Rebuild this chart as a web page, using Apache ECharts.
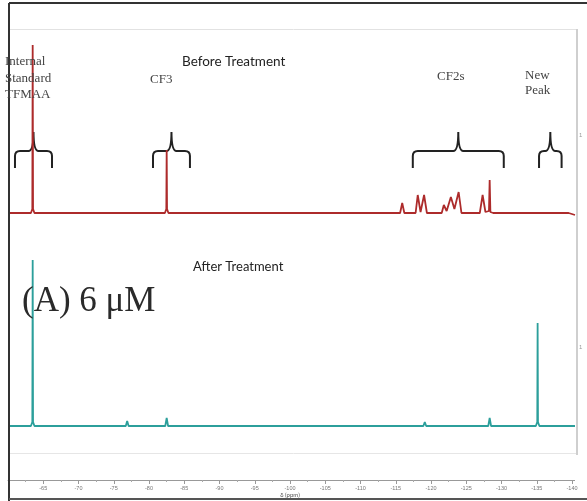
<!DOCTYPE html>
<html>
<head>
<meta charset="utf-8">
<script src="https://cdn.jsdelivr.net/npm/echarts@6/dist/echarts.min.js"></script>
<style>html,body{margin:0;padding:0;background:#fff}#c{width:587px;height:501px}</style>
</head>
<body>
<div id="c"></div>
<script>
// Chemical shift (ppm) and intensity, Before Treatment
const beforePpm = [-60, -63.25, -63.45, -63.5, -63.55, -63.75, -82.25, -82.45, -82.5, -82.55, -82.75,
  -115.6, -115.9, -116.2, -117.8, -118.1, -118.5, -119.0, -119.4, -121.5, -121.8, -122.2, -122.8, -123.3, -123.9, -124.3,
  -126.9, -127.3, -127.7, -128.2, -128.3, -128.4, -128.8, -139.5, -140.4];
const beforeInt = [0, 0, 4, 168, 4, 0, 0, 4, 63, 4, 0,
  0, 10, 0, 0, 18, 1, 18, 0, 0, 8, 2, 16, 4, 21, 0,
  0, 18, 1, 2, 33, 1, 0, 0, -2];
// After Treatment
const afterPpm = [-60, -63.25, -63.45, -63.5, -63.55, -63.75, -76.7, -76.9, -77.1, -82.3, -82.5, -82.7,
  -118.9, -119.1, -119.3, -122.8, -123.0, -123.2, -128.1, -128.3, -128.5,
  -134.85, -135.05, -135.1, -135.15, -135.35, -140.4];
const afterInt = [0, 0, 4, 166, 4, 0, 0, 5, 0, 0, 8, 0,
  0, 4, 0, 0, 2, 0, 0, 8, 0,
  0, 4, 103, 4, 0, 0];
// Brace annotation ranges (ppm)
const braceLeft = [-60.99, -80.56, -117.4, -135.3];
const braceRight = [-66.24, -85.8, -130.3, -138.5];
// Axis range and tick step (ppm)
const axisMin = -140, axisMax = -60, tickStep = 5;

const XMIN = -140.4, XMAX = -60;
const chart = echarts.init(document.getElementById('c'), null, {renderer: 'canvas'});
const serif = '"Liberation Serif", "DejaVu Serif", serif';
const sans = 'Lato, "Open Sans", sans-serif';

function braceItem(params, api) {
  const L = api.coord([api.value(0), 62]);
  const R = api.coord([api.value(1), 62]);
  const e = api.coord([api.value(0), 45])[1];
  const t = api.coord([api.value(0), 81])[1];
  const h = L[1], l = L[0], r = R[0], c = (l + r) / 2, rr = 5;
  const d = `M${l},${e} L${l},${h + rr} Q${l},${h} ${l + rr},${h} L${c - rr},${h} Q${c},${h} ${c},${t} Q${c},${h} ${c + rr},${h} L${r - rr},${h} Q${r},${h} ${r},${h + rr} L${r},${e}`;
  return {type: 'path', shape: {pathData: d}, style: {stroke: '#222', lineWidth: 2, fill: null}};
}

const option = {
  animation: false,
  backgroundColor: '#fff',
  grid: [
    {left: 8, right: 12, top: 30, height: 190},
    {left: 8, right: 12, top: 243, height: 190},
    {left: 8, right: 15, top: 470, height: 10}
  ],
  xAxis: [
    {gridIndex: 0, type: 'value', min: XMIN, max: XMAX, inverse: true, show: false},
    {gridIndex: 1, type: 'value', min: XMIN, max: XMAX, inverse: true, show: false},
    {gridIndex: 2, type: 'value', min: axisMin, max: axisMax, interval: tickStep, inverse: true,
      name: 'δ (ppm)', nameLocation: 'middle', nameGap: 11, nameTextStyle: {fontSize: 6, color: '#555', fontFamily: sans},
      axisLine: {show: true, onZero: false, lineStyle: {color: '#999', width: 1}},
      axisTick: {show: true, length: 4, lineStyle: {color: '#999'}},
      minorTick: {show: true, splitNumber: 2, length: 2, lineStyle: {color: '#aaa'}},
      axisLabel: {show: true, fontSize: 5.5, color: '#777', margin: 5, showMaxLabel: false},
      splitLine: {show: false}}
  ],
  yAxis: [
    {gridIndex: 0, type: 'value', min: -7, max: 183, show: false},
    {gridIndex: 1, type: 'value', min: -7, max: 183, show: false},
    {gridIndex: 2, type: 'value', min: 0, max: 1, show: false}
  ],
  series: [
    {type: 'line', xAxisIndex: 0, yAxisIndex: 0, symbol: 'none', silent: true,
      lineStyle: {color: '#ad2b2b', width: 1.8},
      data: beforePpm.map((p, i) => [p, beforeInt[i]])},
    {type: 'line', xAxisIndex: 1, yAxisIndex: 1, symbol: 'none', silent: true,
      lineStyle: {color: '#2c9f9b', width: 1.8},
      data: afterPpm.map((p, i) => [p, afterInt[i]])},
    {type: 'custom', xAxisIndex: 0, yAxisIndex: 0, clip: false, silent: true,
      encode: {x: [0, 1]}, renderItem: braceItem,
      data: braceLeft.map((p, i) => [p, braceRight[i]])}
  ],
  graphic: [
    // frame lines
    {type: 'line', shape: {x1: 9, y1: 3, x2: 587, y2: 3}, style: {stroke: '#333', lineWidth: 2}, z: 10},
    {type: 'line', shape: {x1: 9, y1: 3, x2: 9, y2: 501}, style: {stroke: '#333', lineWidth: 2}, z: 10},
    {type: 'line', shape: {x1: 9, y1: 499, x2: 587, y2: 499}, style: {stroke: '#555', lineWidth: 2}, z: 10},
    {type: 'line', shape: {x1: 10, y1: 29.5, x2: 577, y2: 29.5}, style: {stroke: '#e2e2e2', lineWidth: 1}},
    {type: 'line', shape: {x1: 10, y1: 453.5, x2: 577, y2: 453.5}, style: {stroke: '#e6e6e6', lineWidth: 1}},
    {type: 'line', shape: {x1: 577, y1: 29, x2: 577, y2: 455}, style: {stroke: '#cfcfcf', lineWidth: 2}},
    {type: 'line', shape: {x1: 572, y1: 480.5, x2: 575, y2: 480.5}, style: {stroke: '#999', lineWidth: 1}},
    {type: 'text', x: 579, y: 135, style: {text: '1', fontSize: 6, fill: '#999', verticalAlign: 'middle'}},
    {type: 'text', x: 579, y: 347, style: {text: '1', fontSize: 6, fill: '#999', verticalAlign: 'middle'}},
    // annotations
    {type: 'text', x: 5, y: 78.5, z: 20, style: {text: 'Internal\nStandard\nTFMAA', font: '13px ' + serif, lineHeight: 16.5, fill: '#444', verticalAlign: 'middle'}},
    {type: 'text', x: 150, y: 80, z: 20, style: {text: 'CF3', font: '13px ' + serif, fill: '#444', verticalAlign: 'middle'}},
    {type: 'text', x: 437, y: 77, z: 20, style: {text: 'CF2s', font: '13px ' + serif, fill: '#444', verticalAlign: 'middle'}},
    {type: 'text', x: 525, y: 83, z: 20, style: {text: 'New\nPeak', font: '13px ' + serif, lineHeight: 15.5, fill: '#444', verticalAlign: 'middle'}},
    {type: 'text', x: 182, y: 62, z: 20, style: {text: 'Before Treatment', font: '13.5px ' + sans, fill: '#222', verticalAlign: 'middle'}},
    {type: 'text', x: 193, y: 267, z: 20, style: {text: 'After Treatment', font: '13px ' + sans, fill: '#222', verticalAlign: 'middle'}},
    {type: 'text', x: 22, y: 284, z: 20, style: {text: '(A) 6 μM', font: '35px ' + serif, fill: '#2a2a2a', verticalAlign: 'alphabetic'}}
  ]
};
chart.setOption(option);
</script>
</body>
</html>
